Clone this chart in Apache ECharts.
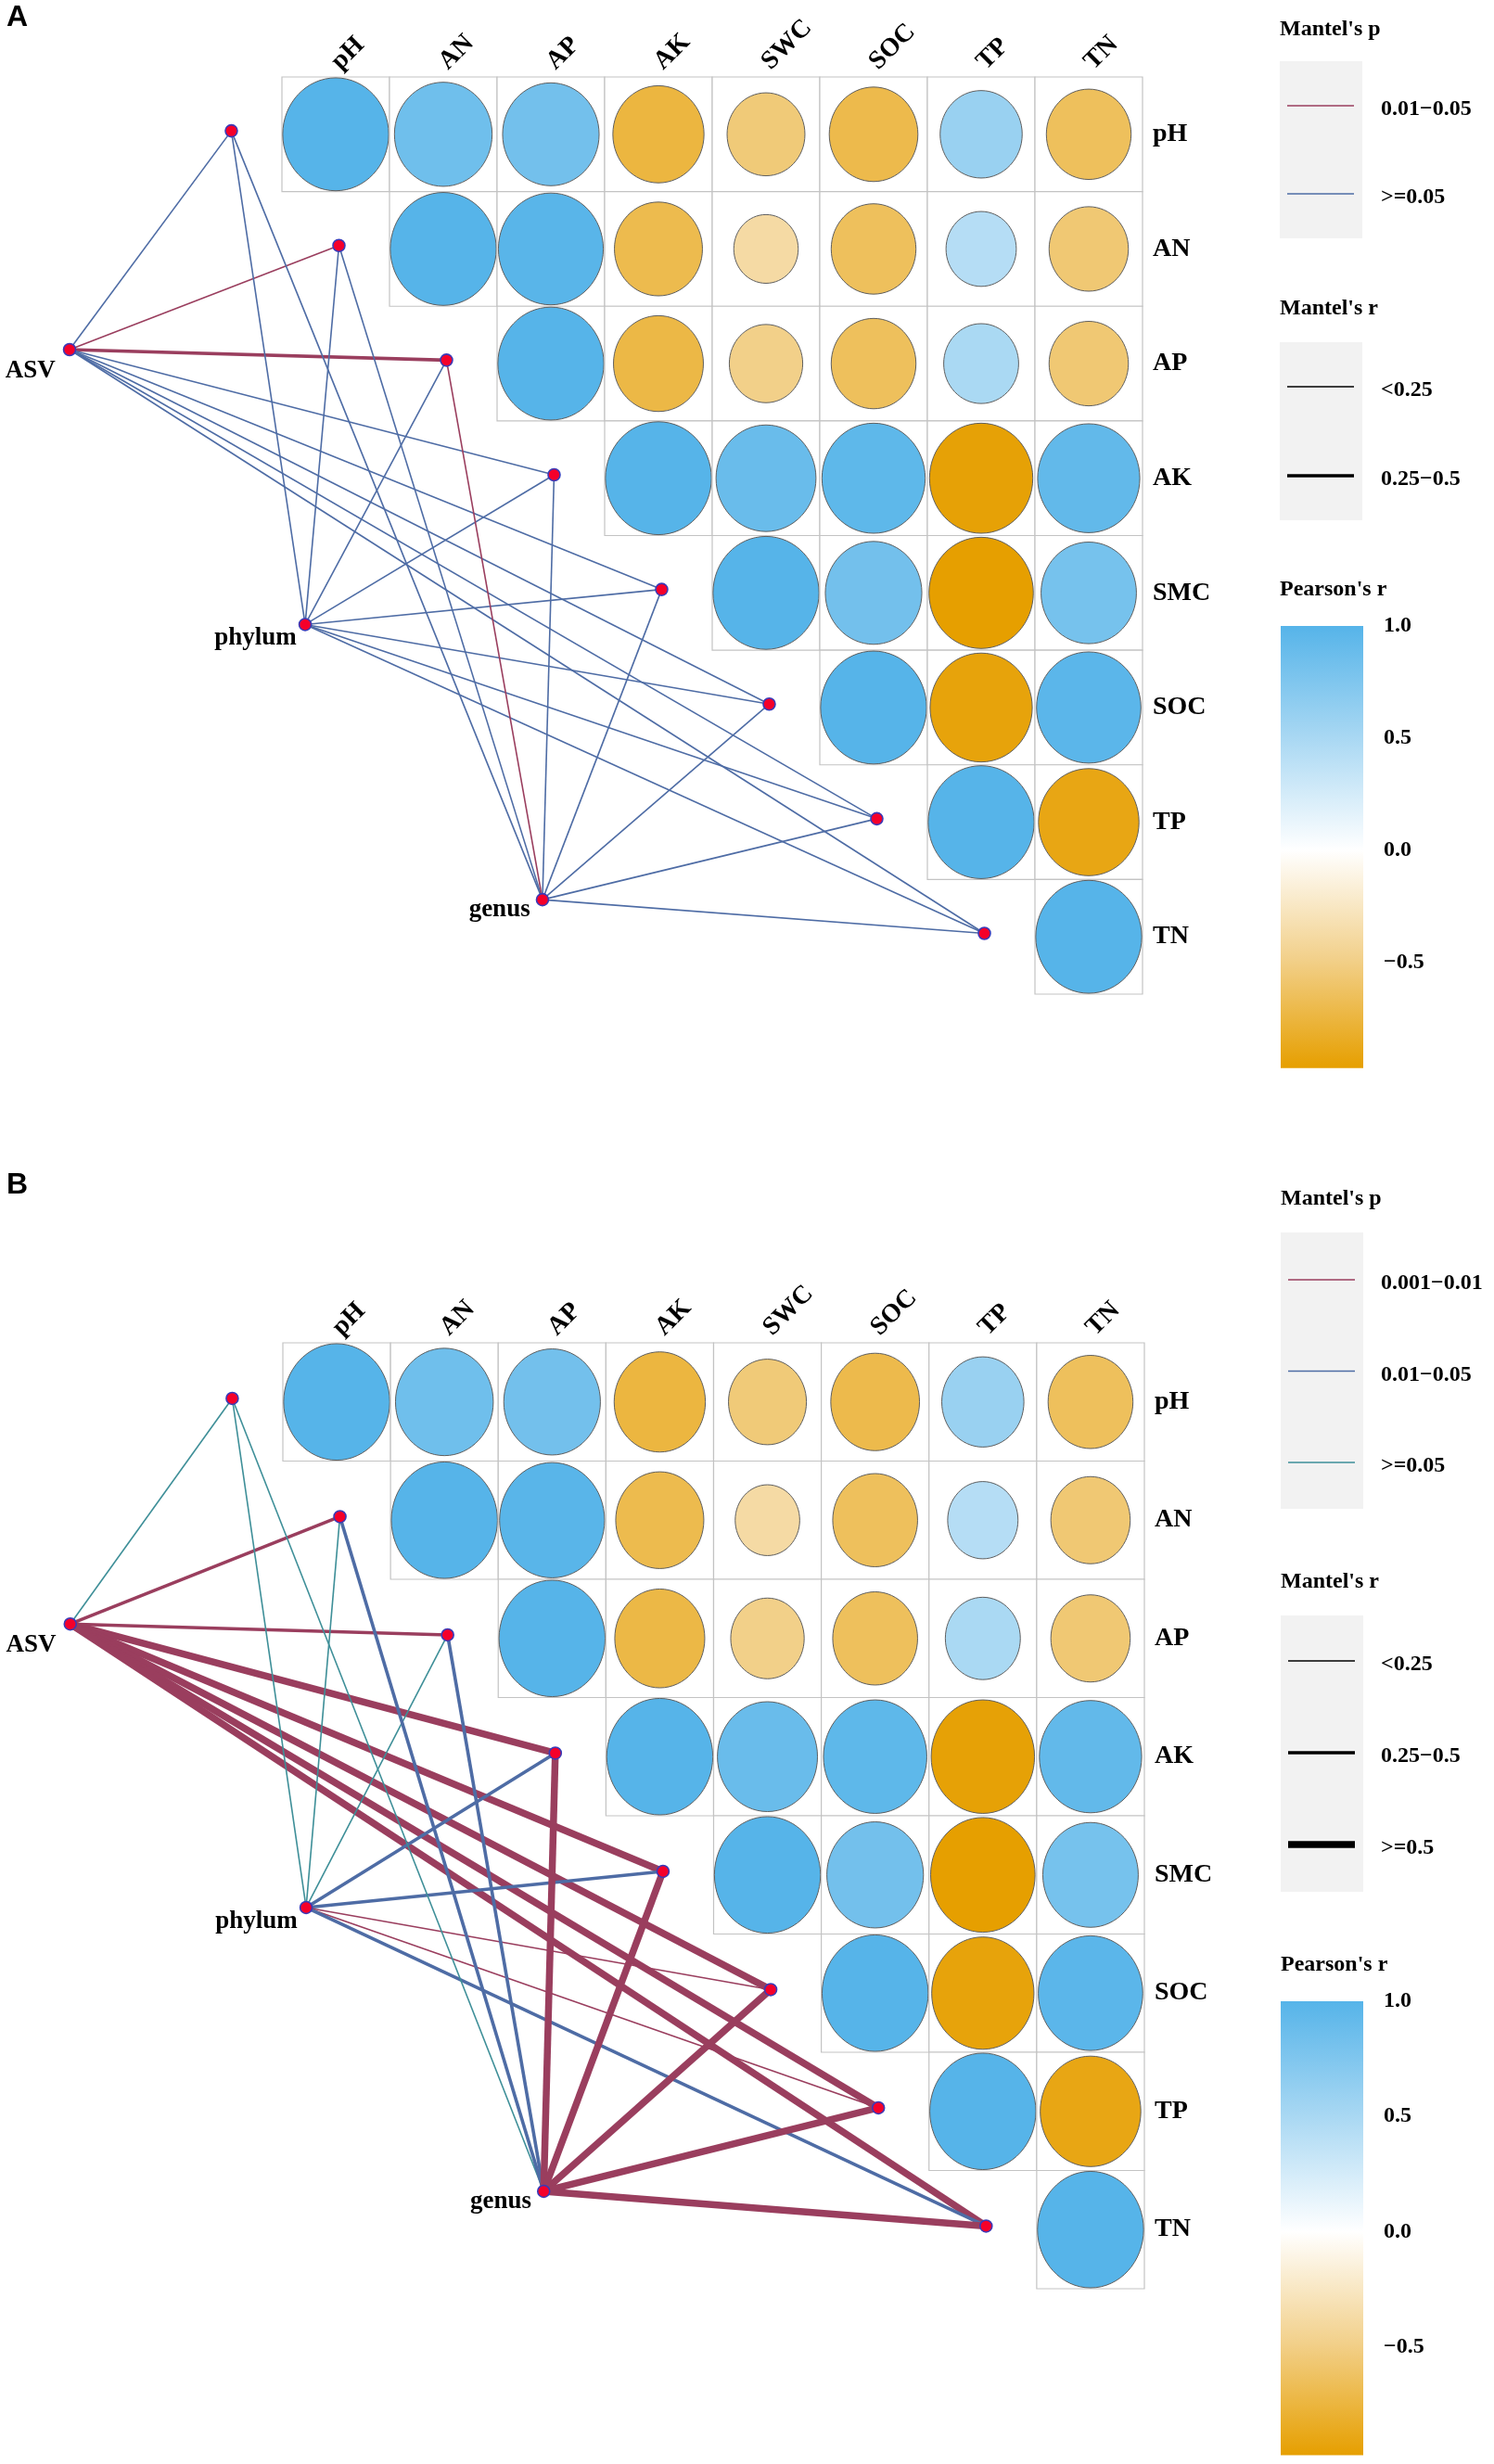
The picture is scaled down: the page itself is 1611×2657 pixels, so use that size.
<!DOCTYPE html>
<html><head><meta charset="utf-8">
<script src="https://cdn.jsdelivr.net/npm/echarts@6/dist/echarts.min.js"></script>
<style>html,body{margin:0;padding:0;background:#fff}#c{width:1611px;height:2657px}</style>
</head><body><div id="c"></div><script>
// ---------------- DATA ----------------
const colVars = ['pH','AN','AP','AK','SWC','SOC','TP','TN'];
const rowVars = ['pH','AN','AP','AK','SMC','SOC','TP','TN'];
// upper triangle of Pearson's r, row i starts at column i
const corrUpper = [
  [1.00, 0.85, 0.83, -0.74, -0.54, -0.70, 0.60, -0.64],
  [1.00, 0.98, -0.69, -0.37, -0.64, 0.44, -0.56],
  [1.00, -0.72, -0.48, -0.64, 0.50, -0.56],
  [1.00, 0.89, 0.95, -0.95, 0.93],
  [1.00, 0.83, -0.97, 0.81],
  [1.00, -0.93, 0.97],
  [1.00, -0.90],
  [1.00]
];
const speciesNames = ['ASV','phylum','genus'];
const pLevelsA = ['0.01\u22120.05', '>=0.05'];
const rLevelsA = ['<0.25', '0.25\u22120.5'];
const mantelPA = [
  ['>=0.05','0.01\u22120.05','0.01\u22120.05','>=0.05','>=0.05','>=0.05','>=0.05','>=0.05'],
  ['>=0.05','>=0.05','>=0.05','>=0.05','>=0.05','>=0.05','>=0.05','>=0.05'],
  ['>=0.05','>=0.05','0.01\u22120.05','>=0.05','>=0.05','>=0.05','>=0.05','>=0.05']
];
const mantelRA = [
  ['<0.25','<0.25','0.25\u22120.5','<0.25','<0.25','<0.25','<0.25','<0.25'],
  ['<0.25','<0.25','<0.25','<0.25','<0.25','<0.25','<0.25','<0.25'],
  ['<0.25','<0.25','<0.25','<0.25','<0.25','<0.25','<0.25','<0.25']
];
const pLevelsB = ['0.001\u22120.01', '0.01\u22120.05', '>=0.05'];
const rLevelsB = ['<0.25', '0.25\u22120.5', '>=0.5'];
const mantelPB = [
  ['>=0.05','0.001\u22120.01','0.001\u22120.01','0.001\u22120.01','0.001\u22120.01','0.001\u22120.01','0.001\u22120.01','0.001\u22120.01'],
  ['>=0.05','>=0.05','>=0.05','0.01\u22120.05','0.01\u22120.05','0.001\u22120.01','0.001\u22120.01','0.01\u22120.05'],
  ['>=0.05','0.01\u22120.05','0.01\u22120.05','0.001\u22120.01','0.001\u22120.01','0.001\u22120.01','0.001\u22120.01','0.001\u22120.01']
];
const mantelRB = [
  ['<0.25','0.25\u22120.5','0.25\u22120.5','>=0.5','>=0.5','>=0.5','>=0.5','>=0.5'],
  ['<0.25','<0.25','<0.25','0.25\u22120.5','0.25\u22120.5','<0.25','<0.25','0.25\u22120.5'],
  ['<0.25','0.25\u22120.5','0.25\u22120.5','>=0.5','>=0.5','>=0.5','>=0.5','>=0.5']
];
const colorbarTicks = [-0.5, 0.0, 0.5, 1.0];
const corrMin = -0.97, corrMax = 1.0;

// ---------------- LAYOUT / STYLE ----------------
const SERIF = '"Liberation Serif","Times New Roman",serif';
const ORANGE = '#E69F00', BLUE = '#56B4E9';
const pColors = ['#9A3E5E', '#4E6CA5', '#3E8F98'];
const rWidths = [1.6, 3.6, 7.5];
// network node layout in cell units of the heatmap axes
const speciesLayout = [
  {x: -1.974, y: 2.378, off: [-4, 23]},
  {x: 0.216, y: 4.776, off: [2, 15]},
  {x: 2.422, y: 7.176, off: [-2, 11]}
];
const envNodePos = i => [i - 0.47, i + 0.47];

const panels = [
  {tag: 'A', tagY: 19, grid: {left: 304, top: 83, width: 928, height: 989},
   cb: {left: 1381, top: 675, width: 89, height: 484},
   pLevels: pLevelsA, rLevels: rLevelsA, P: mantelPA, R: mantelRA,
   leg: {x: 1380, w: 89, pTitle: 32, pBox: [66, 257], pLine0: 114, pStep: 95,
         rTitle: 333, rBox: [369, 561], rLine0: 417, rStep: 96, cTitle: 636}},
  {tag: 'B', tagY: 1278, grid: {left: 305, top: 1448, width: 929, height: 1020},
   cb: {left: 1381, top: 2158, width: 89, height: 497},
   pLevels: pLevelsB, rLevels: rLevelsB, P: mantelPB, R: mantelRB,
   leg: {x: 1381, w: 89, pTitle: 1293, pBox: [1329, 1627], pLine0: 1380, pStep: 98.5,
         rTitle: 1706, rBox: [1742, 2040], rLine0: 1791, rStep: 99, cTitle: 2119}}
];

// ---------------- BUILD OPTION ----------------
const grids = [], xAxes = [], yAxes = [], series = [], graphics = [];
const heatSeriesIdx = [];
const txt = (x, y, text, size, extra) => Object.assign({type: 'text', x: x, y: y, z: 10,
  style: {text: text, fill: '#000', font: 'bold ' + size + 'px ' + SERIF, align: 'left', verticalAlign: 'middle'}}, extra || {});

panels.forEach((pn, k) => {
  const gMain = grids.length;
  grids.push(Object.assign({outerBoundsMode: 'none', containLabel: false}, pn.grid));
  grids.push(Object.assign({outerBoundsMode: 'none', containLabel: false}, pn.cb));
  const xv = xAxes.length;
  xAxes.push({type: 'value', gridIndex: gMain, min: 0, max: 8, interval: 1, show: false});
  xAxes.push({type: 'category', gridIndex: gMain, position: 'top', data: colVars,
    axisLine: {show: false}, axisTick: {show: false}, splitLine: {show: false},
    axisLabel: {rotate: -45, margin: 12, fontSize: 28, fontWeight: 'bold', fontFamily: SERIF, color: '#000', interval: 0}});
  xAxes.push({type: 'value', gridIndex: gMain + 1, min: 0, max: 1, show: false});
  const yv = yAxes.length;
  yAxes.push({type: 'value', gridIndex: gMain, min: 0, max: 8, interval: 1, inverse: true, show: false});
  yAxes.push({type: 'category', gridIndex: gMain, position: 'right', inverse: true, data: rowVars,
    axisLine: {show: false}, axisTick: {show: false}, splitLine: {show: false},
    axisLabel: {margin: 11, fontSize: 28, fontWeight: 'bold', fontFamily: SERIF, color: '#000', interval: 0}});
  yAxes.push({type: 'value', gridIndex: gMain + 1, position: 'right', min: -1, max: 1, interval: 0.5,
    axisLine: {show: false}, splitLine: {show: false},
    axisTick: {show: true, inside: true, length: 18, lineStyle: {color: '#ffffff', width: 1.2}},
    axisLabel: {margin: 22, fontSize: 24, fontWeight: 'bold', fontFamily: SERIF, color: '#000',
      formatter: v => colorbarTicks.some(t => Math.abs(t - v) < 1e-9) ? (v < 0 ? '\u2212' : '') + Math.abs(v).toFixed(1) : ''}});
  yAxes.push({type: 'value', gridIndex: gMain + 1, position: 'left', min: -1, max: 1, interval: 0.5,
    axisLine: {show: false}, splitLine: {show: false}, axisLabel: {show: false},
    axisTick: {show: true, inside: true, length: 18, lineStyle: {color: '#ffffff', width: 1.2}}});

  // heatmap cells
  const heatData = [];
  corrUpper.forEach((row, i) => row.forEach((r, m) => heatData.push([i + m, i, r])));
  heatSeriesIdx.push(series.length);
  series.push({type: 'custom', xAxisIndex: xv, yAxisIndex: yv, z: 2, clip: false, silent: true,
    data: heatData,
    renderItem: (params, api) => {
      const j = api.value(0), i = api.value(1), r = api.value(2);
      const a = api.coord([j, i]), b = api.coord([j + 1, i + 1]);
      const w = b[0] - a[0], h = b[1] - a[1], s = Math.sqrt(Math.abs(r)) * 0.985;
      return {type: 'group', children: [
        {type: 'rect', shape: {x: a[0], y: a[1], width: w, height: h}, style: {fill: '#fff', stroke: '#C3C3C3', lineWidth: 1.2}},
        {type: 'ellipse', shape: {cx: a[0] + w / 2, cy: a[1] + h / 2, rx: w / 2 * s, ry: h / 2 * s},
          style: {fill: api.visual('color'), stroke: '#5f5f5f', lineWidth: 1}}
      ]};
    }});

  // links
  const linkData = [];
  speciesNames.forEach((sp, s) => colVars.forEach((ev, e) => {
    const ep = envNodePos(e);
    linkData.push([speciesLayout[s].x, speciesLayout[s].y, ep[0], ep[1],
      pn.pLevels.indexOf(pn.P[s][e]), pn.rLevels.indexOf(pn.R[s][e])]);
  }));
  series.push({type: 'custom', xAxisIndex: xv, yAxisIndex: yv, z: 3, clip: false, silent: true,
    data: linkData,
    renderItem: (params, api) => {
      const p1 = api.coord([api.value(0), api.value(1)]), p2 = api.coord([api.value(2), api.value(3)]);
      return {type: 'line', shape: {x1: p1[0], y1: p1[1], x2: p2[0], y2: p2[1]},
        style: {stroke: pColors[api.value(4)], lineWidth: rWidths[api.value(5)], lineCap: 'butt'}};
    }});

  // nodes
  const nodeData = [];
  speciesNames.forEach((sp, s) => nodeData.push({name: sp, value: [speciesLayout[s].x, speciesLayout[s].y],
    label: {show: true, formatter: sp, position: 'left', distance: 4, offset: speciesLayout[s].off,
      fontSize: 27, fontWeight: 'bold', fontFamily: SERIF, color: '#000'}}));
  colVars.forEach((ev, e) => nodeData.push({name: ev, value: envNodePos(e), label: {show: false}}));
  series.push({type: 'scatter', xAxisIndex: xv, yAxisIndex: yv, z: 5, clip: false, silent: true,
    symbol: 'circle', symbolSize: 13, data: nodeData,
    itemStyle: {color: '#F5002A', borderColor: '#3A3AB8', borderWidth: 1.6, opacity: 1}});

  // colorbar
  const wOff = (corrMax - 0) / (corrMax - corrMin);
  series.push({type: 'custom', xAxisIndex: xv + 2, yAxisIndex: yv + 2, z: 2, clip: false, silent: true,
    data: [[0, corrMin, corrMax]],
    renderItem: (params, api) => {
      const a = api.coord([0, api.value(2)]), b = api.coord([1, api.value(1)]);
      return {type: 'rect', shape: {x: a[0], y: a[1], width: b[0] - a[0], height: b[1] - a[1]},
        style: {fill: new echarts.graphic.LinearGradient(0, 0, 0, 1, [
          {offset: 0, color: BLUE}, {offset: wOff * 0.5, color: '#A9D8F3'},
          {offset: wOff, color: '#FFFFFF'}, {offset: wOff + (1 - wOff) * 0.5, color: '#F2D08A'},
          {offset: 1, color: ORANGE}])}};
    }});

  // panel tag & legends
  graphics.push({type: 'text', x: 7, y: pn.tagY, z: 10,
    style: {text: pn.tag, fill: '#000', font: 'bold 32px "Liberation Sans",Arial,sans-serif', align: 'left', verticalAlign: 'middle'}});
  const L = pn.leg;
  graphics.push(txt(L.x, L.pTitle, "Mantel's p", 24));
  graphics.push({type: 'rect', z: 9, shape: {x: L.x, y: L.pBox[0], width: L.w, height: L.pBox[1] - L.pBox[0]}, style: {fill: '#F2F2F2'}});
  pn.pLevels.forEach((lv, q) => {
    const y = L.pLine0 + q * L.pStep;
    graphics.push({type: 'line', z: 10, shape: {x1: L.x + 8, y1: y, x2: L.x + 80, y2: y}, style: {stroke: pColors[q], lineWidth: 1.6}});
    graphics.push(txt(1489, y + 4, lv, 24));
  });
  graphics.push(txt(L.x, L.rTitle, "Mantel's r", 24));
  graphics.push({type: 'rect', z: 9, shape: {x: L.x, y: L.rBox[0], width: L.w, height: L.rBox[1] - L.rBox[0]}, style: {fill: '#F2F2F2'}});
  pn.rLevels.forEach((lv, q) => {
    const y = L.rLine0 + q * L.rStep;
    graphics.push({type: 'line', z: 10, shape: {x1: L.x + 8, y1: y, x2: L.x + 80, y2: y}, style: {stroke: '#000', lineWidth: rWidths[q]}});
    graphics.push(txt(1489, y + 4, lv, 24));
  });
  graphics.push(txt(L.x, L.cTitle, "Pearson's r", 24));
});

const chart = echarts.init(document.getElementById('c'), null, {renderer: 'canvas'});
chart.setOption({
  backgroundColor: '#ffffff',
  animation: false,
  grid: grids, xAxis: xAxes, yAxis: yAxes,
  visualMap: [{type: 'continuous', show: false, seriesIndex: heatSeriesIdx, dimension: 2,
    min: corrMin, max: corrMax, inRange: {color: [ORANGE, '#F2D08A', '#FFFFFF', '#A9D8F3', BLUE]}}],
  series: series,
  graphic: graphics
});
</script></body></html>
